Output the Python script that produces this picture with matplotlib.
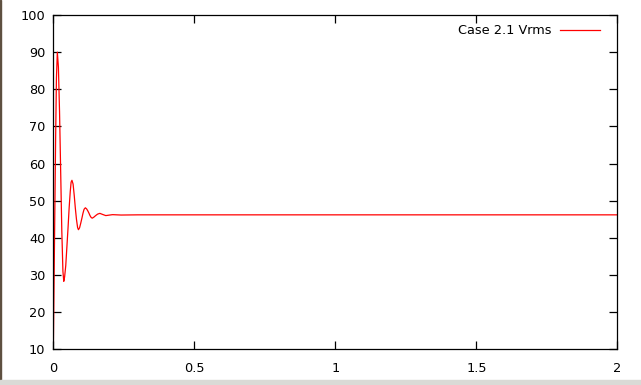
import numpy as np
import matplotlib
matplotlib.use('Agg')
import matplotlib.pyplot as plt
import matplotlib.ticker as ticker
from matplotlib.patches import Rectangle

# значения (время, с / Vrms)
t = [0.0, 0.004, 0.008, 0.011, 0.0142, 0.018, 0.022, 0.026, 0.030, 0.034, 0.037,
     0.040, 0.044, 0.048, 0.052, 0.056, 0.060, 0.063, 0.066,
     0.070, 0.074, 0.078, 0.082, 0.086, 0.089,
     0.093, 0.097, 0.101, 0.105, 0.109, 0.1135,
     0.118, 0.122, 0.126, 0.130, 0.134, 0.138,
     0.144, 0.150, 0.157, 0.165, 0.175, 0.186,
     0.20, 0.21, 0.24, 0.30, 1.0, 2.0]
vrms = [10.0, 38.0, 66.0, 83.0, 90.0, 86.0, 74.0, 58.0, 42.0, 31.0, 28.3,
        29.5, 32.5, 37.5, 42.5, 48.0, 52.5, 55.0, 55.5,
        54.5, 51.5, 48.0, 45.0, 42.8, 42.2,
        42.7, 43.9, 45.2, 46.6, 47.7, 48.1,
        47.8, 47.3, 46.7, 46.0, 45.5, 45.3,
        45.6, 46.0, 46.4, 46.6, 46.3, 46.0,
        46.15, 46.25, 46.15, 46.2, 46.2, 46.2]

xticks = [0, 0.5, 1, 1.5, 2]
yticks = [10, 20, 30, 40, 50, 60, 70, 80, 90, 100]

plt.rcParams['font.family'] = 'DejaVu Sans'
plt.rcParams['font.size'] = 9.3

fig = plt.figure(figsize=(6.41, 3.85), dpi=100)
ax = fig.add_axes([0.0832, 0.0927, 0.9633 - 0.0832, 0.961 - 0.0927])

ax.plot(t, vrms, color='#ff0000', linewidth=0.9, label='Case 2.1 Vrms')

ax.set_xlim(0, 2)
ax.set_ylim(10, 100)
ax.set_xticks(xticks)
ax.set_yticks(yticks)
ax.xaxis.set_major_formatter(ticker.FuncFormatter(lambda v, p: '%g' % v))

for s in ax.spines.values():
    s.set_linewidth(0.9)
ax.tick_params(direction='in', top=True, right=True, length=5.5, width=0.9)
ax.tick_params(axis='x', pad=9)
ax.tick_params(axis='y', pad=5.8)

ax.legend(loc='upper right', bbox_to_anchor=(1 - 5 / 564, 1 + 3.5 / 334),
          frameon=False, markerfirst=False, handlelength=3.1,
          borderaxespad=0.6, handletextpad=0.6)

# рамка окна
fig.patches.append(Rectangle((0, 0), 1.0 / 641, 1, transform=fig.transFigure,
                             color='#5e5040', zorder=0))
fig.patches.append(Rectangle((0, 0), 1, 5 / 385, transform=fig.transFigure,
                             color='#dadad6', zorder=0))

plt.savefig('out.png', dpi=100)
